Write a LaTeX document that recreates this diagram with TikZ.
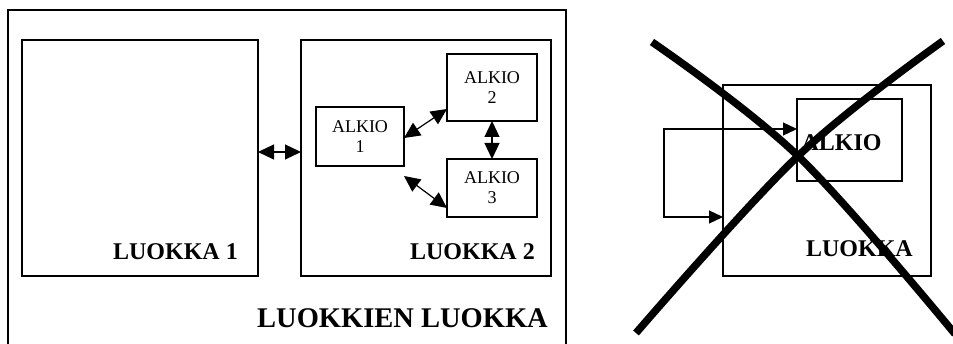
\documentclass[tikz,border=0pt]{standalone}
\usepackage{fontspec}
\setmainfont{Liberation Serif}
\usetikzlibrary{arrows.meta}
\tikzset{
  box/.style={draw, line width=1.2pt, rectangle, inner sep=0pt, outer sep=0pt},
  itembox/.style={box, align=center, font=\fontsize{18}{20}\selectfont},
  biglabel/.style={font=\fontsize{24}{26}\selectfont\bfseries, inner sep=0pt},
  dbl/.style={line width=1.2pt, {Triangle[length=16pt,width=15pt]}-{Triangle[length=16pt,width=15pt]}},
  dblsmall/.style={line width=1.2pt, {Triangle[length=14pt,width=13pt]}-{Triangle[length=14pt,width=13pt]}},
  cross/.style={line width=7.5pt, line cap=butt}
}
\begin{document}
\begin{tikzpicture}[x=1pt,y=-1pt]
\useasboundingbox[fill=white] (0,0) rectangle (953,344);
% left: class of classes
\node[box, minimum width=558pt, minimum height=340pt] (outer) at (287,180) {};
\node[box, minimum width=236pt, minimum height=236pt] (l1) at (140,158) {};
\node[box, minimum width=250pt, minimum height=236pt] (l2) at (426,158) {};
\node[itembox, minimum width=88pt, minimum height=59pt] (a1) at (360,136.5) {ALKIO\\1};
\node[itembox, minimum width=90pt, minimum height=67pt] (a2) at (492,87.5) {ALKIO\\2};
\node[itembox, minimum width=90pt, minimum height=58pt] (a3) at (492,188) {ALKIO\\3};
\node[biglabel, anchor=base east] (t1) at (238,260) {LUOKKA 1};
\node[biglabel, anchor=base east] (t2) at (535,260) {LUOKKA 2};
\node[font=\fontsize{28.5}{30}\selectfont\bfseries, inner sep=0pt, anchor=base east] (t0) at (548,328) {LUOKKIEN LUOKKA};
\draw[dbl] (l1.east |- 0,152) -- (l2.west |- 0,152);
\draw[dbl] (a1.east |- 0,138) -- (a2.west |- 0,109);
\draw[dbl] (a1.east |- 0,176) -- (a3.west |- 0,208);
\draw[dbl] (a2.south) -- (a3.north);
% right: crossed-out example
\node[box, minimum width=208pt, minimum height=191pt] (lk) at (827,180.5) {};
\node[box, line width=2pt, minimum width=105pt, minimum height=82pt] (ak) at (849.5,140) {};
\node[biglabel, anchor=base] (tak) at (841.5,151) {ALKIO};
\node[biglabel, anchor=base east] (tlk) at (913,257) {LUOKKA};
\coordinate (c1) at (664,129);
\coordinate (c2) at (664,217);
\draw[dblsmall] (c1 -| ak.west) -- (c1) -- (c2) -- (c2 -| lk.west);
\draw[cross] plot[smooth, tension=0.6] coordinates {(652,42) (798,156) (955,334)};
\draw[cross] plot[smooth, tension=0.6] coordinates {(943,41) (798,156) (636,333)};
\end{tikzpicture}
\end{document}
